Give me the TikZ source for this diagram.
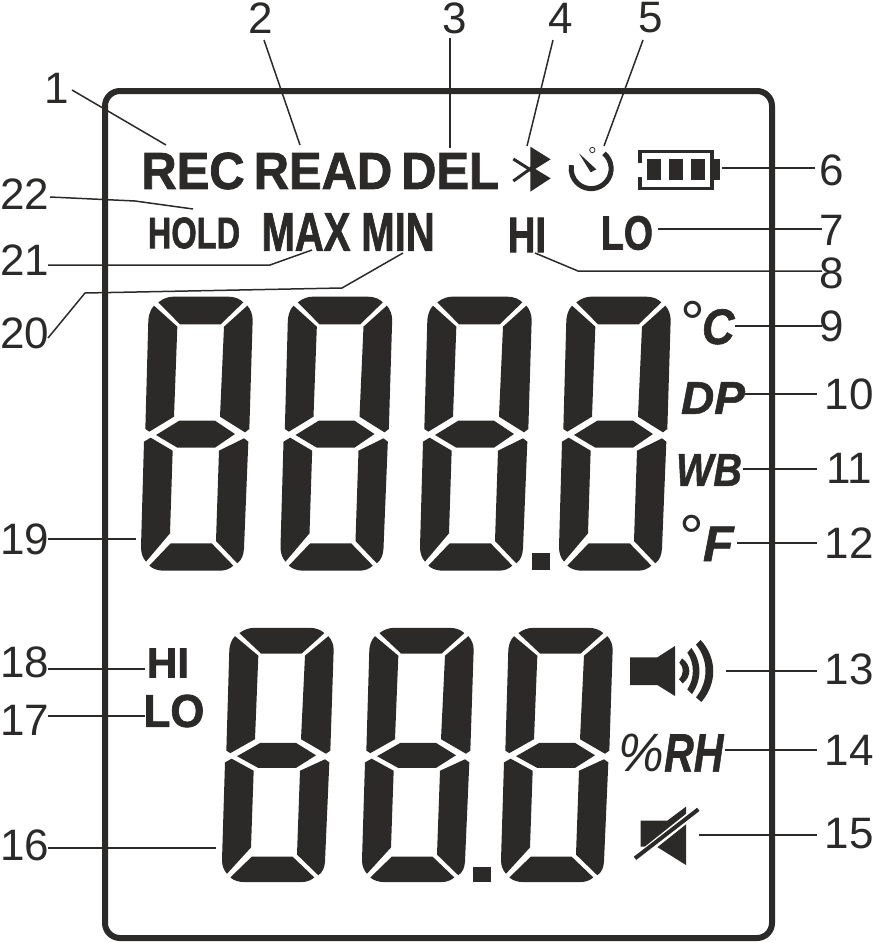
\documentclass[tikz,border=0pt]{standalone}
\usepackage{graphicx}
\usepackage{fontspec}
\setmainfont{Liberation Sans}
\newfontfamily\heavy[FakeBold=1.6]{Liberation Sans Bold}
\newfontfamily\heavyit[FakeBold=1.2]{Liberation Sans Bold Italic}
\definecolor{ink}{HTML}{2B2A29}
\newcommand\sz[1]{\fontsize{#1}{#1}\selectfont}
\newcommand\lcddigit[3]{%
\begin{scope}[shift={(#1,#2)},xscale=1/3,yscale=#3/3]
\fill[ink] (85,52) .. controls (100,40) and (115,35) .. (130,35) -- (295,35) .. controls (315,35) and (330,42) .. (340,52) -- (272,118) -- (150,118) -- cycle;
\fill[ink] (72,62) -- (142,125) -- (132,395) -- (58,440) -- (46,432) -- (55,105) .. controls (56,90) and (62,72) .. (72,62) -- cycle;
\fill[ink] (352,62) .. controls (362,72) and (368,90) .. (368,105) -- (358,432) -- (345,442) -- (270,395) -- (282,125) -- cycle;
\fill[ink] (148,407) -- (255,407) -- (315,447) -- (255,488) -- (142,488) -- (78,450) -- cycle;
\fill[ink] (62,458) -- (128,497) -- (120,745) -- (48,830) .. controls (38,818) and (33,805) .. (33,785) -- (42,470) -- cycle;
\fill[ink] (342,460) -- (355,470) -- (342,790) .. controls (341,810) and (335,825) .. (322,835) -- (258,768) -- (267,497) -- cycle;
\fill[ink] (122,775) -- (245,775) -- (310,842) .. controls (298,853) and (285,857) .. (270,857) -- (100,857) .. controls (85,857) and (68,852) .. (58,842) -- cycle;
\end{scope}}
\tikzset{
  lead/.style={draw=ink,line width=1.5pt},
  num/.style={text=ink,inner sep=0pt,font=\sz{44}},
  lcdb/.style={text=ink,inner sep=0pt},
  lcdi/.style={text=ink,inner sep=0pt},
}
\begin{document}
\begin{tikzpicture}[x=1pt,y=-1pt]
\useasboundingbox (0,0) rectangle (873,943);
\draw[ink,line width=6pt,rounded corners=15pt] (105,91) rectangle (772,938);
% digits
\foreach \d in {0,139.5,279,418}{\lcddigit{130+\d}{285}{1}}
\foreach \d in {0,140,279}{\lcddigit{211+\d}{617}{0.928}}
\fill[ink] (532,553) rectangle (550,570);
\fill[ink] (473,867) rectangle (491,882);
% text
\node[lcdb,font=\heavy\sz{52}] (rec) at (193,171) {\scalebox{0.94}[1]{REC}};
\node[lcdb,font=\heavy\sz{52}] (read) at (323,171) {\scalebox{0.94}[1]{READ}};
\node[lcdb,font=\heavy\sz{52}] (del) at (450,171) {\scalebox{0.94}[1]{DEL}};
\node[lcdb,font=\heavy\sz{44}] (hold) at (194,233) {\scalebox{0.74}[1]{HOLD}};
\node[lcdb,font=\heavy\sz{54}] (max) at (306,232) {\scalebox{0.74}[1]{MAX}};
\node[lcdb,font=\heavy\sz{54}] (min) at (398,232) {\scalebox{0.74}[1]{MIN}};
\node[lcdb,font=\heavy\sz{50}] (hi) at (527,235) {\scalebox{0.76}[1]{HI}};
\node[lcdb,font=\heavy\sz{48}] (lo) at (627,233) {\scalebox{0.78}[1]{LO}};
\node[lcdb,font=\heavy\sz{42}] (hib) at (168,663) {HI};
\node[lcdb,font=\heavy\sz{46}] (lob) at (174,711) {\scalebox{0.95}[1]{LO}};
\node[lcdi,anchor=base west,font=\heavyit\sz{50}] (cc) at (680,344) {{\normalfont\sz{62}°}\kern-3pt\scalebox{0.9}[1]{C}};
\node[lcdi,font=\heavyit\sz{46}] (dp) at (713,398) {DP};
\node[lcdi,font=\heavyit\sz{46}] (wb) at (709,470) {\scalebox{0.86}[1]{WB}};
\node[lcdi,anchor=base west,font=\heavyit\sz{50}] (ff) at (679,561) {\raisebox{3pt}{\normalfont\sz{62}°}\kern-1pt F};
\node[lcdi,font=\heavyit\sz{54}] (rh) at (671,753) {{\normalfont\sz{54}\itshape\scalebox{0.95}[1]{\%}}\scalebox{0.76}[1]{RH}};
% bluetooth
\begin{scope}[shift={(500,130)},scale=1/3]
\fill[ink] (91,50) -- (152,88) -- (91,126) -- cycle;
\fill[ink] (91,108) -- (152,145) -- (91,185) -- cycle;
\draw[ink,line width=3pt] (40,87) -- (100,125);
\draw[ink,line width=3pt] (40,153) -- (100,110);
% timer
\draw[ink,line width=5pt] (312,70) arc[start angle=-50,end angle=190,radius=60];
\fill[ink] (237,70) -- (289,118) -- (272,127) -- cycle;
\draw[ink,line width=0.8pt,fill=white] (277,60) circle[radius=8];
% battery
\draw[ink,line width=3.5pt] (420,100) -- (420,65) -- (636,65) -- (636,175) -- (420,175) -- (420,140);
\fill[ink] (442,88) rectangle (483,150);
\fill[ink] (508,88) rectangle (549,150);
\fill[ink] (574,88) rectangle (615,150);
\fill[ink] (640,88) rectangle (660,150);
\end{scope}
% speaker
\begin{scope}[shift={(610,630)},scale=1/3]
\fill[ink] (60,82) -- (142,82) -- (195,48) -- (195,198) -- (142,165) -- (60,165) -- cycle;
\fill[ink] (216,85) .. controls (245,105) and (245,140) .. (218,160) -- (207,148) .. controls (222,132) and (222,112) .. (208,98) -- cycle;
\fill[ink] (244,54) .. controls (276,95) and (276,150) .. (246,192) -- (232,178) .. controls (254,145) and (254,100) .. (232,68) -- cycle;
\fill[ink] (272,30) .. controls (322,85) and (322,160) .. (274,216) -- (258,202) .. controls (296,155) and (296,90) .. (258,44) -- cycle;
% mute
\fill[ink] (92,572) -- (172,572) -- (228,530) -- (228,705) -- (140,650) -- (92,650) -- cycle;
\draw[white,line width=8pt] (55,705) -- (285,522);
\draw[ink,line width=4pt] (75,685) -- (265,538);
\end{scope}
% numbers
\node[num] (n1) at (57,88) {1};
\node[num] (n2) at (261,18) {2};
\node[num] (n3) at (455,18) {3};
\node[num] (n4) at (561,18) {4};
\node[num] (n5) at (651,18) {5};
\node[num] (n6) at (832,170) {6};
\node[num] (n7) at (832,230) {7};
\node[num] (n8) at (832,273) {8};
\node[num] (n9) at (832,326) {9};
\node[num] (n10) at (849,394) {10};
\node[num] (n11) at (849,468) {11};
\node[num] (n12) at (849,543) {12};
\node[num] (n13) at (849,669) {13};
\node[num] (n14) at (849,750) {14};
\node[num] (n15) at (849,834) {15};
\node[num] (n16) at (25,845) {16};
\node[num] (n17) at (25,720) {17};
\node[num] (n18) at (25,662) {18};
\node[num] (n19) at (25,539) {19};
\node[num] (n20) at (25,333) {20};
\node[num] (n21) at (25,260) {21};
\node[num] (n22) at (25,194) {22};
% leaders
\coordinate (a1) at (72,90); \coordinate (b1) at (166,145);
\coordinate (a2) at (264,40); \coordinate (b2) at (300,145);
\coordinate (a3) at (450,38); \coordinate (b3) at (450,148);
\coordinate (a4) at (553,40); \coordinate (b4) at (527,146);
\coordinate (a5) at (643,40); \coordinate (b5) at (604,146);
\coordinate (a6) at (815,168); \coordinate (b6) at (722,168);
\coordinate (a7) at (822,229); \coordinate (b7) at (658,229);
\coordinate (a8) at (822,271); \coordinate (k8) at (578,271); \coordinate (b8) at (535,253);
\coordinate (a9) at (822,326); \coordinate (b9) at (735,326);
\coordinate (a10) at (817,394); \coordinate (b10) at (745,394);
\coordinate (a11) at (817,469); \coordinate (b11) at (743,469);
\coordinate (a12) at (817,543); \coordinate (b12) at (737,543);
\coordinate (a13) at (817,671); \coordinate (b13) at (726,671);
\coordinate (a14) at (817,750); \coordinate (b14) at (725,750);
\coordinate (a15) at (817,835); \coordinate (b15) at (699,835);
\coordinate (a16) at (48,848); \coordinate (b16) at (216,848);
\coordinate (a17) at (48,716); \coordinate (b17) at (145,716);
\coordinate (a18) at (48,669); \coordinate (b18) at (145,669);
\coordinate (a19) at (48,539); \coordinate (b19) at (136,539);
\coordinate (a20) at (48,338); \coordinate (k20) at (85,293); \coordinate (m20) at (342,288); \coordinate (b20) at (403,253);
\coordinate (a21) at (48,265); \coordinate (k21) at (270,265); \coordinate (b21) at (312,250);
\coordinate (a22) at (50,197); \coordinate (k22) at (135,201); \coordinate (b22) at (193,209);
\foreach \i in {1,2,3,4,5,6,7,9,10,11,12,13,14,15,16,17,18,19}{\draw[lead] (a\i) -- (b\i);}
\draw[lead] (a8) -- (k8) -- (b8);
\draw[lead] (a20) -- (k20) -- (m20) -- (b20);
\draw[lead] (a21) -- (k21) -- (b21);
\draw[lead] (a22) -- (k22) -- (b22);
\end{tikzpicture}
\end{document}
